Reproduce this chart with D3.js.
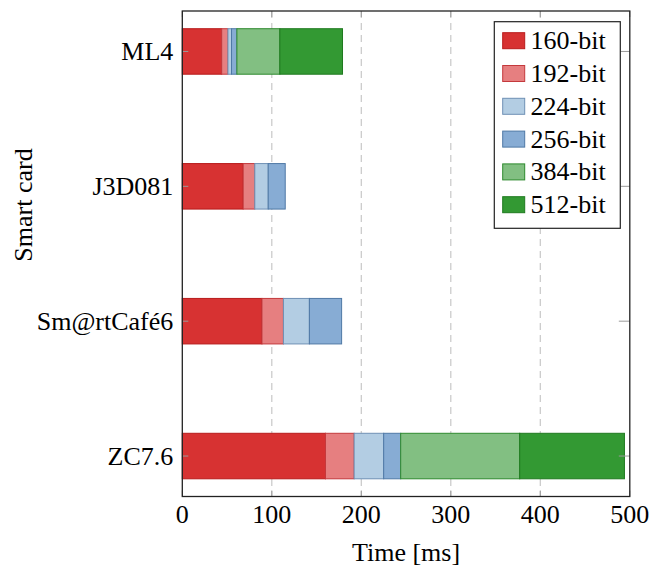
<!DOCTYPE html>
<html>
<head>
<meta charset="utf-8">
<script src="https://cdn.jsdelivr.net/npm/d3@7"></script>
<style>
  html, body { margin: 0; padding: 0; background: #fff; }
  svg { display: block; }
</style>
</head>
<body>
<svg id="chart" width="652" height="567"></svg>
<script>
const categories = ["ML4", "J3D081", "Sm@rtCafé6", "ZC7.6"];
const seriesNames = ["160-bit", "192-bit", "224-bit", "256-bit", "384-bit", "512-bit"];
const s160 = [44, 68, 89, 160];
const s192 = [7, 13, 24, 32];
const s224 = [4, 15, 29, 33];
const s256 = [6, 19, 36, 19];
const s384 = [48, 0, 0, 133];
const s512 = [70, 0, 0, 117];
const xTicks = [0, 100, 200, 300, 400, 500];
const fills = ["#d73232", "#e67f80", "#b3cde3", "#87acd4", "#82bf82", "#339933"];
const strokes = ["#b81b1b", "#c4393c", "#6f90b5", "#4f79a6", "#2e8a2e", "#1f7a1f"];
const FONT = '"Liberation Serif"';

const seriesValues = [s160, s192, s224, s256, s384, s512];
const table = categories.map((c, i) => {
  const row = { cat: c };
  seriesNames.forEach((n, j) => row[n] = seriesValues[j][i]);
  return row;
});
const stacked = d3.stack().keys(seriesNames)(table);

const svg = d3.select("#chart");
const L = 182.3, R = 629.8, T = 11, B = 496.5;

const x = d3.scaleLinear().domain([0, 500]).range([L, R]);
const yIdx = d3.scaleLinear().domain([-0.3, 3.3]).range([T, B]);
const barH = 45.5;

// grid
svg.append("g").selectAll("line").data(xTicks.filter(t => t > 0 && t < 500)).join("line")
  .attr("x1", d => x(d)).attr("x2", d => x(d))
  .attr("y1", T).attr("y2", B)
  .attr("stroke", "#c8c8c8").attr("stroke-width", 1.2)
  .attr("stroke-dasharray", "7,5");

// bars
const layers = svg.append("g").selectAll("g").data(stacked).join("g")
  .attr("fill", (d, i) => fills[i]).attr("stroke", (d, i) => strokes[i]);
layers.selectAll("rect").data(d => d).join("rect")
  .attr("x", d => x(d[0]))
  .attr("width", d => x(d[1]) - x(d[0]))
  .attr("y", (d, i) => yIdx(i) - barH / 2)
  .attr("height", barH)
  .attr("stroke-width", 1);

// ticks (inside, gray)
const tk = svg.append("g").attr("stroke", "#9a9a9a").attr("stroke-width", 1);
xTicks.forEach(t => {
  tk.append("line").attr("x1", x(t)).attr("x2", x(t)).attr("y1", B).attr("y2", B - 6);
  tk.append("line").attr("x1", x(t)).attr("x2", x(t)).attr("y1", T).attr("y2", T + 6);
});
categories.forEach((c, i) => {
  tk.append("line").attr("x1", L).attr("x2", L + 6).attr("y1", yIdx(i)).attr("y2", yIdx(i));
  tk.append("line").attr("x1", R).attr("x2", R - 11).attr("y1", yIdx(i)).attr("y2", yIdx(i));
});

// frame
svg.append("rect").attr("x", L).attr("y", T).attr("width", R - L).attr("height", B - T)
  .attr("fill", "none").attr("stroke", "#222").attr("stroke-width", 1.3);

// x tick labels
svg.append("g").selectAll("text").data(xTicks).join("text")
  .attr("x", d => x(d)).attr("y", 523)
  .attr("text-anchor", "middle").style("font-size", "26px").style("font-family", FONT)
  .text(d => d);

// y labels
svg.append("g").selectAll("text").data(categories).join("text")
  .attr("x", L - 9).attr("y", (d, i) => yIdx(i) + 8.5)
  .attr("text-anchor", "end").style("font-size", "26px").style("font-family", FONT)
  .text(d => d);

// axis titles
svg.append("text").attr("x", (L + R) / 2).attr("y", 561)
  .attr("text-anchor", "middle").style("font-size", "26px").style("font-family", FONT).text("Time [ms]");
svg.append("text").attr("transform", "translate(32,205) rotate(-90)")
  .attr("text-anchor", "middle").style("font-size", "26px").style("font-family", FONT).text("Smart card");

// legend
const lg = svg.append("g");
lg.append("rect").attr("x", 494.3).attr("y", 21.7).attr("width", 126).attr("height", 206.6)
  .attr("fill", "#fff").attr("stroke", "#222").attr("stroke-width", 1.2);
seriesNames.forEach((n, i) => {
  const cy = 40.7 + i * 32.8;
  lg.append("rect").attr("x", 502.7).attr("y", cy - 8).attr("width", 22).attr("height", 16)
    .attr("fill", fills[i]).attr("stroke", strokes[i]).attr("stroke-width", 1);
  lg.append("text").attr("x", 530.5).attr("y", cy + 8.5)
    .style("font-size", "26px").style("font-family", FONT).text(n);
});
</script>
</body>
</html>
